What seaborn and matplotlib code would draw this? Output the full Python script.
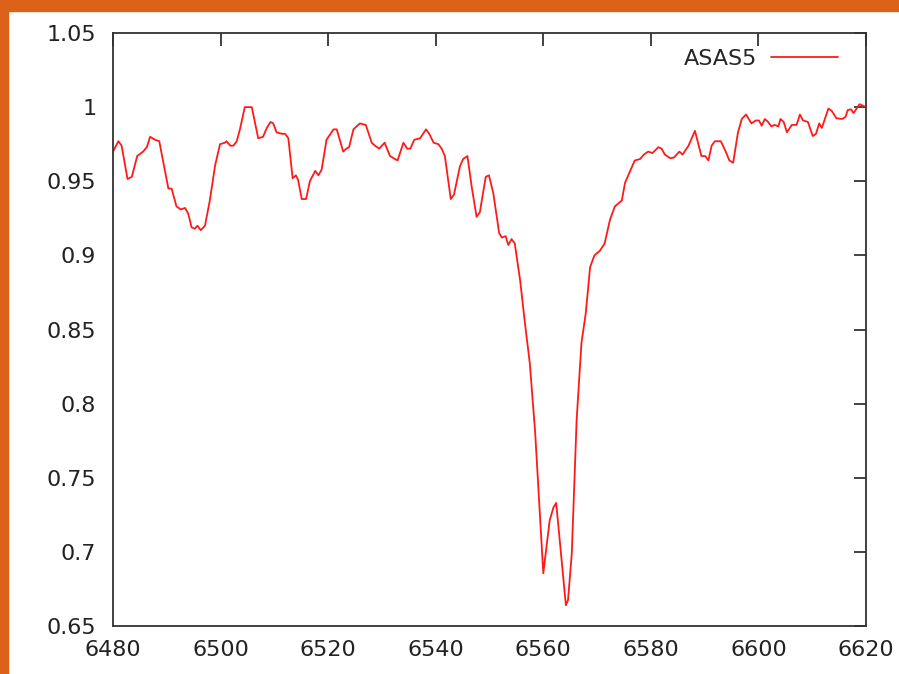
import seaborn as sns
import matplotlib.pyplot as plt
from matplotlib.patches import Rectangle
from matplotlib.ticker import FuncFormatter, MultipleLocator

# spectrum (wavelength in Angstrom, normalised flux)
wavelength = [
    6480.0, 6481.0, 6481.6, 6482.7, 6483.5, 6484.5, 6485.6, 6486.3, 6486.9, 6487.8,
    6488.6, 6490.3, 6490.9, 6491.8, 6492.6, 6493.4, 6494.0, 6494.6, 6495.2, 6495.7,
    6496.3, 6497.1, 6498.0, 6499.0, 6499.9, 6500.8, 6501.1, 6501.8, 6502.4, 6503.0,
    6503.6, 6504.5, 6505.8, 6507.0, 6507.9, 6508.6, 6509.3, 6509.8, 6510.4, 6511.4,
    6512.0, 6512.6, 6513.4, 6514.0, 6514.4, 6515.1, 6515.9, 6516.6, 6517.6, 6518.2,
    6518.8, 6519.7, 6521.0, 6521.6, 6522.8, 6523.4, 6523.9, 6524.7, 6525.9, 6527.0,
    6528.1, 6528.7, 6529.5, 6530.5, 6531.5, 6532.9, 6534.0, 6534.7, 6535.3, 6536.0,
    6537.1, 6538.2, 6538.8, 6539.6, 6540.5, 6541.1, 6541.7, 6542.8, 6543.4, 6544.5,
    6545.1, 6545.9, 6546.7, 6547.6, 6548.2, 6549.3, 6549.9, 6550.7, 6551.8, 6552.3,
    6553.0, 6553.5, 6554.1, 6554.7, 6555.7, 6556.6, 6557.5, 6558.5, 6560.0, 6561.2,
    6561.9, 6562.4, 6564.2, 6564.6, 6565.3, 6566.2, 6567.1, 6567.9, 6568.7, 6569.5,
    6570.5, 6571.4, 6572.4, 6573.3, 6574.6, 6575.2, 6575.8, 6577.0, 6578.0, 6578.7,
    6579.5, 6580.3, 6581.4, 6582.0, 6582.6, 6583.6, 6584.3, 6585.3, 6585.9, 6587.0,
    6588.2, 6589.4, 6590.1, 6590.7, 6591.3, 6591.9, 6593.0, 6593.8, 6594.6, 6595.3,
    6596.2, 6596.9, 6597.7, 6598.7, 6599.5, 6600.1, 6600.6, 6601.2, 6601.8, 6602.4,
    6603.0, 6603.7, 6604.1, 6604.7, 6605.3, 6606.2, 6607.1, 6607.7, 6608.3, 6609.2,
    6610.1, 6610.7, 6611.3, 6611.8, 6613.0, 6613.6, 6614.5, 6615.6, 6616.2, 6616.6,
    6617.2, 6617.7, 6618.8, 6619.4, 6620.0,
]
flux = [
    0.970, 0.977, 0.974, 0.9515, 0.953, 0.967, 0.970, 0.973, 0.980, 0.978,
    0.977, 0.945, 0.945, 0.933, 0.931, 0.932, 0.928, 0.919, 0.918, 0.920,
    0.917, 0.920, 0.937, 0.961, 0.975, 0.976, 0.977, 0.974, 0.974, 0.977,
    0.985, 1.000, 1.000, 0.979, 0.980, 0.986, 0.990, 0.989, 0.983, 0.982,
    0.982, 0.979, 0.952, 0.954, 0.951, 0.938, 0.938, 0.950, 0.957, 0.954,
    0.958, 0.978, 0.985, 0.985, 0.970, 0.972, 0.973, 0.985, 0.989, 0.988,
    0.976, 0.974, 0.972, 0.976, 0.967, 0.964, 0.976, 0.972, 0.972, 0.978,
    0.979, 0.985, 0.982, 0.976, 0.975, 0.972, 0.967, 0.938, 0.941, 0.960,
    0.965, 0.967, 0.946, 0.926, 0.929, 0.953, 0.954, 0.942, 0.915, 0.912,
    0.913, 0.907, 0.911, 0.908, 0.883, 0.854, 0.827, 0.780, 0.6855, 0.7215,
    0.730, 0.733, 0.664, 0.6675, 0.699, 0.789, 0.841, 0.861, 0.892, 0.900,
    0.903, 0.908, 0.924, 0.933, 0.937, 0.949, 0.954, 0.964, 0.965, 0.968,
    0.970, 0.969, 0.973, 0.972, 0.968, 0.9655, 0.966, 0.970, 0.968, 0.974,
    0.984, 0.967, 0.967, 0.964, 0.974, 0.977, 0.977, 0.971, 0.964, 0.9625,
    0.983, 0.992, 0.995, 0.989, 0.991, 0.991, 0.9875, 0.992, 0.990, 0.987,
    0.988, 0.987, 0.992, 0.990, 0.983, 0.988, 0.988, 0.995, 0.991, 0.990,
    0.9805, 0.982, 0.989, 0.986, 0.999, 0.9976, 0.9925, 0.992, 0.9935, 0.998,
    0.9985, 0.996, 1.002, 1.001, 1.000,
]

sns.set_style("white")
plt.rcParams['font.family'] = ['DejaVu Sans']

fig = plt.figure(figsize=(8.99, 6.74), dpi=100)
ax = fig.add_axes([113 / 899, 1 - 626 / 674, 753 / 899, 593 / 674])

# orange frame of the slide on the left and top edges
fig.patches.append(Rectangle((0, 0), 8 / 899, 1, transform=fig.transFigure,
                             color='#dc6219', zorder=0))
fig.patches.append(Rectangle((0, 1 - 11 / 674), 1, 11 / 674, transform=fig.transFigure,
                             color='#dc6219', zorder=0))

sns.lineplot(x=wavelength, y=flux, ax=ax, color='#ff1a1a', linewidth=1.3,
             label='ASAS5', estimator=None)

ax.set_xlim(6480, 6620)
ax.set_ylim(0.65, 1.05)
ax.xaxis.set_major_locator(MultipleLocator(20))
ax.yaxis.set_major_locator(MultipleLocator(0.05))
ax.yaxis.set_major_formatter(FuncFormatter(lambda v, p: '%g' % round(v, 2)))
ax.tick_params(direction='in', length=9, width=1.2, colors='#222222',
               labelsize=16, top=True, right=True, pad=10)
ax.tick_params(axis='y', pad=12)
for s in ax.spines.values():
    s.set_color('#333333')
    s.set_linewidth(1.3)

leg = ax.legend(loc='upper right', bbox_to_anchor=(1 - 12 / 753, 1), frameon=False,
                markerfirst=False, fontsize=16, handlelength=3.05,
                borderaxespad=0.3, handletextpad=0.6)

fig.savefig('out.png', dpi=100)
